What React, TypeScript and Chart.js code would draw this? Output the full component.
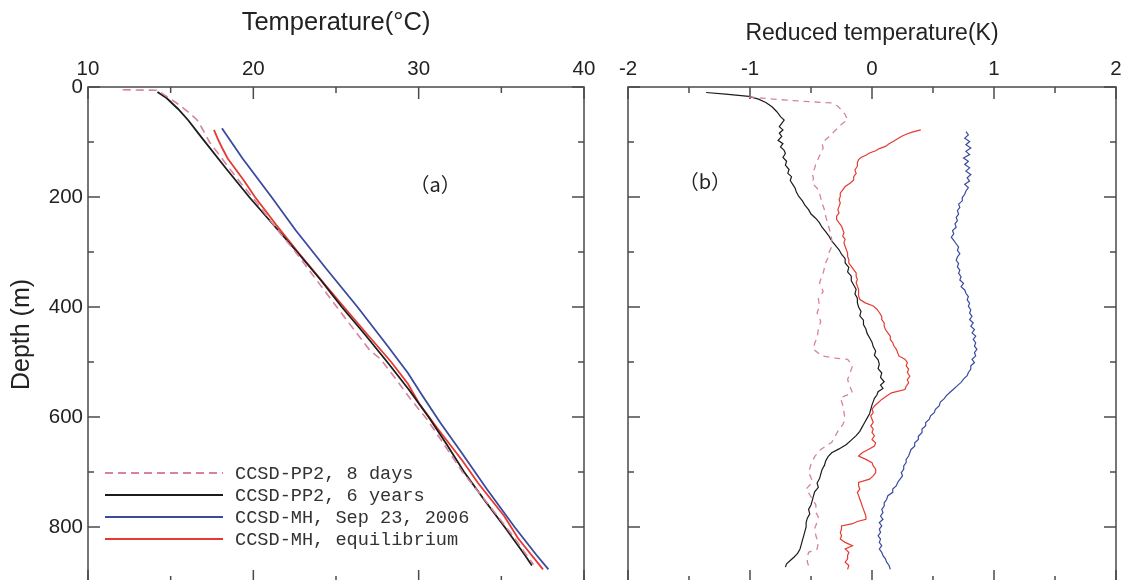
import React, { useEffect, useRef } from 'react';
import { Chart, registerables } from 'chart.js';

Chart.register(...registerables);

const FONT = '"Liberation Sans", Arial, sans-serif';
const MONO = '"Liberation Mono", "DejaVu Sans Mono", monospace';
const CJK = '"Noto Sans CJK SC", "Noto Sans", sans-serif';

// ---------- ticks ----------
const tempTicks = [10, 20, 30, 40];
const tempMinorTicks = [15, 25, 35];
const reducedTicks = [-2, -1, 0, 1, 2];
const reducedMinorTicks = [-1.5, -0.5, 0.5, 1.5];
const depthTicks = [0, 200, 400, 600, 800];
const depthMinorTicks = [100, 300, 500, 700, 900];

const legendLabels = ['CCSD-PP2, 8 days', 'CCSD-PP2, 6 years', 'CCSD-MH, Sep 23, 2006', 'CCSD-MH, equilibrium'];

// ---------- panel (a): temperature ----------
const aPinkDepth = [5, 6, 18, 30, 45, 60, 75, 100, 140, 175, 210, 265, 300, 350, 410, 477, 495, 530, 565, 604, 646, 700, 760, 820, 846, 868];
const aPinkTemp = [12.1, 14.2, 14.8, 15.4, 16.05, 16.6, 16.9, 17.35, 18.35, 19.25, 20.2, 21.6, 22.55, 23.8, 25.3, 27.0, 27.7, 28.6, 29.45, 30.5, 31.45, 32.65, 34.25, 35.8, 36.4, 36.95];

const aBlackDepth = [9, 20, 40, 60, 93, 150, 200, 250, 300, 350, 400, 450, 500, 550, 600, 650, 700, 750, 800, 850, 870];
const aBlackTemp = [14.2, 14.75, 15.45, 16.05, 16.9, 18.4, 19.75, 21.2, 22.65, 24.05, 25.35, 26.75, 28.1, 29.4, 30.6, 31.7, 32.75, 33.95, 35.2, 36.4, 36.85];

const aBlueDepth = [75, 130, 200, 260, 330, 400, 470, 520, 560, 610, 665, 730, 800, 850, 877];
const aBlueTemp = [18.1, 19.35, 21.1, 22.55, 24.4, 26.3, 28.1, 29.35, 30.2, 31.3, 32.6, 34.1, 35.8, 37.1, 37.85];

const aRedDepth = [78, 93, 110, 130, 170, 200, 250, 300, 350, 400, 450, 500, 540, 575, 620, 680, 720, 780, 820, 877];
const aRedTemp = [17.62, 17.83, 18.1, 18.45, 19.43, 20.1, 21.37, 22.7, 24.08, 25.48, 26.9, 28.34, 29.36, 30.02, 31.12, 32.66, 33.59, 35.17, 36.0, 37.52];

// ---------- panel (b): reduced temperature ----------
const bPinkDepth = [18, 24, 27, 29, 35, 42, 50, 60, 66, 72, 81, 90, 102, 111, 120, 130, 139, 148, 157, 166, 175, 184, 193, 202, 211, 223, 235, 250, 266, 278, 290, 300, 310, 320, 338, 356, 372, 385, 398, 411, 426, 441, 456, 466, 477, 489, 493, 495, 507, 520, 532, 545, 556, 565, 578, 592, 604, 614, 622, 634, 646, 659, 672, 686, 701, 710, 719, 731, 745, 760, 773, 782, 791, 803, 816, 828, 840, 846, 855, 864, 870];
const bPinkValue = [-1.01, -0.7, -0.49, -0.33, -0.28, -0.25, -0.22, -0.2, -0.24, -0.27, -0.31, -0.35, -0.41, -0.4, -0.42, -0.44, -0.46, -0.47, -0.49, -0.48, -0.49, -0.45, -0.43, -0.42, -0.41, -0.39, -0.38, -0.36, -0.34, -0.33, -0.33, -0.35, -0.36, -0.38, -0.4, -0.43, -0.4, -0.44, -0.43, -0.45, -0.42, -0.44, -0.45, -0.47, -0.48, -0.41, -0.3, -0.2, -0.16, -0.18, -0.2, -0.18, -0.16, -0.26, -0.24, -0.23, -0.22, -0.24, -0.27, -0.3, -0.33, -0.42, -0.47, -0.5, -0.52, -0.5, -0.49, -0.54, -0.5, -0.46, -0.46, -0.44, -0.45, -0.47, -0.46, -0.44, -0.45, -0.52, -0.53, -0.53, -0.52];

const bBlackDepth = [10, 13, 17, 22, 28, 36, 45, 54, 60, 66, 72, 78, 84, 90, 97, 103, 109, 115, 121, 128, 135, 142, 150, 157, 163, 170, 177, 184, 191, 199, 207, 215, 223, 231, 239, 247, 255, 263, 272, 280, 288, 296, 304, 312, 320, 328, 336, 344, 352, 360, 368, 376, 384, 392, 400, 408, 416, 424, 432, 440, 448, 456, 464, 472, 480, 488, 496, 504, 512, 520, 528, 536, 542, 548, 554, 560, 566, 572, 578, 586, 594, 602, 610, 618, 626, 634, 642, 650, 658, 665, 672, 680, 688, 696, 704, 712, 720, 728, 736, 744, 752, 760, 768, 776, 784, 792, 800, 808, 816, 824, 832, 840, 848, 855, 861, 867, 873];
const bBlackValue = [-1.36, -1.2, -1.01, -0.93, -0.87, -0.82, -0.78, -0.75, -0.72, -0.74, -0.76, -0.73, -0.76, -0.74, -0.77, -0.73, -0.75, -0.72, -0.71, -0.73, -0.7, -0.71, -0.68, -0.69, -0.66, -0.67, -0.65, -0.63, -0.62, -0.6, -0.57, -0.55, -0.52, -0.5, -0.46, -0.43, -0.41, -0.38, -0.35, -0.33, -0.3, -0.27, -0.25, -0.22, -0.22, -0.19, -0.2, -0.17, -0.17, -0.15, -0.13, -0.14, -0.12, -0.12, -0.11, -0.09, -0.1, -0.07, -0.07, -0.05, -0.04, -0.02, 0.0, 0.01, 0.03, 0.02, 0.05, 0.06, 0.05, 0.08, 0.07, 0.1, 0.07, 0.09, 0.05, 0.04, 0.02, 0.01, 0.0, -0.01, -0.02, -0.04, -0.06, -0.08, -0.1, -0.13, -0.17, -0.21, -0.27, -0.33, -0.36, -0.38, -0.39, -0.41, -0.42, -0.43, -0.45, -0.44, -0.47, -0.48, -0.49, -0.5, -0.52, -0.51, -0.53, -0.54, -0.54, -0.55, -0.56, -0.57, -0.58, -0.59, -0.61, -0.64, -0.67, -0.7, -0.71];

const bBlueDepth = [81, 87, 93, 99, 105, 111, 117, 123, 129, 135, 141, 147, 153, 159, 165, 171, 177, 183, 189, 195, 201, 207, 213, 219, 225, 231, 237, 243, 249, 255, 261, 267, 273, 279, 285, 291, 297, 303, 309, 315, 321, 327, 333, 339, 345, 351, 357, 363, 369, 375, 381, 387, 393, 399, 405, 411, 417, 423, 429, 435, 441, 447, 453, 459, 465, 471, 477, 483, 489, 495, 501, 507, 513, 519, 525, 531, 537, 543, 549, 555, 561, 567, 573, 580, 586, 592, 598, 604, 610, 616, 622, 628, 635, 641, 647, 653, 659, 665, 671, 677, 683, 689, 695, 701, 707, 713, 719, 725, 731, 737, 743, 750, 756, 762, 768, 774, 780, 786, 792, 798, 804, 810, 816, 822, 828, 834, 840, 846, 852, 858, 864, 870, 877];
const bBlueValue = [0.77, 0.79, 0.76, 0.8, 0.77, 0.81, 0.77, 0.8, 0.75, 0.79, 0.76, 0.8, 0.77, 0.81, 0.78, 0.8, 0.76, 0.79, 0.77, 0.76, 0.74, 0.74, 0.71, 0.72, 0.7, 0.71, 0.69, 0.7, 0.68, 0.69, 0.66, 0.67, 0.65, 0.67, 0.69, 0.71, 0.7, 0.72, 0.7, 0.69, 0.71, 0.7, 0.72, 0.71, 0.73, 0.72, 0.75, 0.73, 0.76, 0.77, 0.79, 0.78, 0.8, 0.79, 0.81, 0.8, 0.82, 0.8, 0.83, 0.81, 0.84, 0.82, 0.85, 0.83, 0.85, 0.84, 0.86, 0.84, 0.85, 0.82, 0.84, 0.81, 0.81, 0.79, 0.78, 0.75, 0.73, 0.7, 0.67, 0.64, 0.61, 0.59, 0.56, 0.55, 0.52, 0.51, 0.48, 0.47, 0.44, 0.44, 0.41, 0.41, 0.38, 0.38, 0.35, 0.35, 0.32, 0.31, 0.3, 0.28, 0.28, 0.26, 0.26, 0.24, 0.25, 0.23, 0.21, 0.2, 0.17, 0.17, 0.13, 0.12, 0.1, 0.1, 0.08, 0.09, 0.07, 0.09, 0.06, 0.08, 0.06, 0.07, 0.05, 0.07, 0.06, 0.08, 0.06, 0.08, 0.09, 0.11, 0.12, 0.14, 0.15];

const bRedDepth = [78, 82, 86, 90, 94, 98, 103, 108, 112, 116, 120, 124, 128, 132, 138, 144, 151, 157, 163, 169, 175, 181, 187, 193, 199, 205, 211, 217, 223, 229, 235, 241, 247, 253, 259, 265, 271, 277, 283, 290, 296, 302, 308, 314, 320, 326, 332, 338, 344, 350, 356, 362, 368, 374, 380, 386, 392, 398, 404, 410, 417, 423, 429, 435, 441, 447, 453, 459, 465, 471, 477, 483, 489, 495, 501, 507, 513, 519, 526, 532, 538, 544, 550, 556, 562, 568, 574, 580, 586, 592, 598, 604, 610, 616, 622, 628, 634, 641, 647, 653, 659, 665, 671, 677, 683, 689, 695, 701, 707, 713, 719, 725, 731, 737, 743, 749, 755, 762, 768, 774, 780, 786, 790, 794, 798, 804, 810, 816, 822, 828, 834, 840, 846, 852, 858, 864, 870, 877];
const bRedValue = [0.4, 0.33, 0.28, 0.24, 0.21, 0.18, 0.14, 0.11, 0.06, 0.03, -0.02, -0.05, -0.09, -0.11, -0.12, -0.12, -0.14, -0.13, -0.15, -0.15, -0.18, -0.22, -0.24, -0.26, -0.26, -0.27, -0.26, -0.27, -0.28, -0.27, -0.29, -0.29, -0.27, -0.25, -0.24, -0.23, -0.24, -0.22, -0.23, -0.22, -0.21, -0.2, -0.2, -0.19, -0.19, -0.17, -0.15, -0.13, -0.13, -0.12, -0.13, -0.12, -0.11, -0.11, -0.11, -0.1, -0.06, 0.01, 0.04, 0.06, 0.08, 0.08, 0.1, 0.1, 0.11, 0.13, 0.15, 0.15, 0.17, 0.18, 0.2, 0.21, 0.22, 0.27, 0.29, 0.28, 0.3, 0.29, 0.31, 0.29, 0.3, 0.28, 0.27, 0.16, 0.12, 0.08, 0.05, 0.02, 0.0, 0.01, -0.01, 0.0, 0.01, -0.01, 0.01, 0.0, 0.02, 0.0, 0.03, 0.02, -0.03, -0.08, -0.11, -0.05, 0.0, 0.01, 0.03, 0.03, 0.01, -0.02, -0.11, -0.11, -0.1, -0.12, -0.11, -0.1, -0.09, -0.08, -0.07, -0.06, -0.05, -0.05, -0.12, -0.16, -0.25, -0.25, -0.26, -0.25, -0.26, -0.22, -0.16, -0.22, -0.19, -0.2, -0.2, -0.22, -0.19, -0.2];

// ---------- colours ----------
const PINK = '#d8839c';
const BLACK = '#1c1c1c';
const BLUE = '#3a4a9e';
const RED = '#e53a32';
const AXIS = '#4a4a4a';
const TEXT = '#222222';

function pts(depth: number[], vals: number[]) {
  return depth.map((d, i) => ({ x: vals[i], y: d }));
}

function makeFrame(xMajor: number[], xMinor: number[], yMajor: number[], yMinor: number[]) {
  return {
    id: 'frame',
    beforeDatasetsDraw(chart: any) {
      const { ctx, chartArea, scales } = chart;
      const { left, right, top, bottom } = chartArea;
      const x = scales.x;
      const y = scales.y;
      ctx.save();
      ctx.strokeStyle = AXIS;
      ctx.lineWidth = 1.5;
      ctx.strokeRect(left, top, right - left, bottom - top);
      const seg = (x1: number, y1: number, x2: number, y2: number) => {
        ctx.beginPath();
        ctx.moveTo(x1, y1);
        ctx.lineTo(x2, y2);
        ctx.stroke();
      };
      const tick = (vals: number[], len: number) => {
        for (const v of vals) {
          const px = x.getPixelForValue(v);
          seg(px, top, px, top + len);
          seg(px, bottom, px, bottom - len);
        }
      };
      const ytick = (vals: number[], len: number) => {
        for (const v of vals) {
          const py = y.getPixelForValue(v);
          seg(left, py, left + len, py);
          seg(right, py, right - len, py);
        }
      };
      tick(xMajor, 12);
      tick(xMinor, 6);
      ytick(yMajor, 12);
      ytick(yMinor, 6);
      ctx.restore();
    },
  };
}

function makeLabel(text: string, xv: number, yv: number) {
  return {
    id: 'panelLabel',
    afterDraw(chart: any) {
      const { ctx, scales } = chart;
      ctx.save();
      ctx.font = `20px ${CJK}`;
      ctx.fillStyle = TEXT;
      ctx.textAlign = 'center';
      ctx.textBaseline = 'middle';
      ctx.fillText(text, scales.x.getPixelForValue(xv), scales.y.getPixelForValue(yv));
      ctx.restore();
    },
  };
}

const legendPlugin = {
  id: 'innerLegend',
  afterDraw(chart: any) {
    const { ctx, chartArea } = chart;
    const x0 = chartArea.left + 17;
    const x1 = chartArea.left + 135;
    const tx = chartArea.left + 147;
    const y0 = chartArea.top + 386;
    const step = 22;
    ctx.save();
    chart.data.datasets.forEach((ds: any, i: number) => {
      const yy = y0 + i * step;
      ctx.strokeStyle = ds.borderColor;
      ctx.lineWidth = 2;
      ctx.setLineDash(ds.borderDash || []);
      ctx.beginPath();
      ctx.moveTo(x0, yy);
      ctx.lineTo(x1, yy);
      ctx.stroke();
      ctx.setLineDash([]);
      ctx.font = `18.6px ${MONO}`;
      ctx.fillStyle = '#333333';
      ctx.textAlign = 'left';
      ctx.textBaseline = 'middle';
      ctx.fillText(ds.label, tx, yy + 1);
    });
    ctx.restore();
  },
};

function depthScale(showLabels: boolean, width: number) {
  return {
    type: 'linear',
    reverse: true,
    min: 0,
    max: 900,
    afterBuildTicks: (s: any) => {
      s.ticks = depthTicks.map((v) => ({ value: v }));
    },
    afterFit: (s: any) => {
      s.width = width;
      s.paddingTop = 0;
      s.paddingBottom = 0;
    },
    grid: { display: false, drawTicks: false },
    border: { display: false },
    ticks: { display: showLabels, font: { family: FONT, size: 20.5 }, color: TEXT, padding: 5 },
    title: {
      display: showLabels,
      text: 'Depth (m)',
      font: { family: FONT, size: 25 },
      color: TEXT,
      padding: { top: 7, bottom: 0 },
    },
  };
}

function topScale(min: number, max: number, ticks: number[], title: string, titleSize: number, titleTop: number) {
  return {
    type: 'linear',
    position: 'top',
    min,
    max,
    afterBuildTicks: (s: any) => {
      s.ticks = ticks.map((v) => ({ value: v }));
    },
    afterFit: (s: any) => {
      s.height = 87;
      s.paddingLeft = 0;
      s.paddingRight = 0;
    },
    grid: { display: false, drawTicks: false },
    border: { display: false },
    ticks: { font: { family: FONT, size: 20.5 }, color: TEXT, padding: 5, maxRotation: 0 },
    title: {
      display: true,
      text: title,
      font: { family: FONT, size: titleSize },
      color: TEXT,
      padding: { top: titleTop, bottom: 0 },
    },
  };
}

function lineDs(label: string, data: any[], color: string, width: number, dash?: number[]) {
  return {
    label,
    data,
    borderColor: color,
    backgroundColor: color,
    borderWidth: width,
    borderDash: dash || [],
    showLine: true,
    pointRadius: 0,
    pointHoverRadius: 0,
    tension: 0,
    fill: false,
  };
}

export default function App() {
  const leftRef = useRef<HTMLCanvasElement>(null);
  const rightRef = useRef<HTMLCanvasElement>(null);

  useEffect(() => {
    const left = new Chart(leftRef.current as HTMLCanvasElement, {
      type: 'scatter',
      data: {
        datasets: [
          lineDs(legendLabels[0], pts(aPinkDepth, aPinkTemp), PINK, 1.6, [8, 5]),
          lineDs(legendLabels[1], pts(aBlackDepth, aBlackTemp), BLACK, 1.8),
          lineDs(legendLabels[2], pts(aBlueDepth, aBlueTemp), BLUE, 1.8),
          lineDs(legendLabels[3], pts(aRedDepth, aRedTemp), RED, 1.8),
        ],
      } as any,
      options: {
        responsive: false,
        maintainAspectRatio: false,
        animation: false,
        events: [],
        layout: { padding: { left: 0, right: 22, top: 0, bottom: 10 } },
        plugins: { legend: { display: false }, tooltip: { enabled: false } },
        scales: {
          x: topScale(10, 40, tempTicks, 'Temperature(°C)', 25.5, 8),
          y: depthScale(true, 88),
        },
      } as any,
      plugins: [
        makeFrame(tempTicks, tempMinorTicks, depthTicks, depthMinorTicks),
        makeLabel('（a）', 31, 178),
        legendPlugin,
      ],
    });

    const right = new Chart(rightRef.current as HTMLCanvasElement, {
      type: 'scatter',
      data: {
        datasets: [
          lineDs(legendLabels[0], pts(bPinkDepth, bPinkValue), PINK, 1.3, [6, 5]),
          lineDs(legendLabels[1], pts(bBlackDepth, bBlackValue), BLACK, 1.2),
          lineDs(legendLabels[2], pts(bBlueDepth, bBlueValue), BLUE, 1.2),
          lineDs(legendLabels[3], pts(bRedDepth, bRedValue), RED, 1.2),
        ],
      } as any,
      options: {
        responsive: false,
        maintainAspectRatio: false,
        animation: false,
        events: [],
        layout: { padding: { left: 0, right: 14, top: 0, bottom: 10 } },
        plugins: { legend: { display: false }, tooltip: { enabled: false } },
        scales: {
          x: topScale(-2, 2, reducedTicks, 'Reduced temperature(K)', 23, 20),
          y: depthScale(false, 22),
        },
      } as any,
      plugins: [
        makeFrame(reducedTicks, reducedMinorTicks, depthTicks, depthMinorTicks),
        makeLabel('（b）', -1.37, 172),
      ],
    });

    return () => {
      left.destroy();
      right.destroy();
    };
  }, []);

  return (
    <div
      style={{
        position: 'fixed',
        left: 0,
        top: 0,
        width: 1130,
        height: 580,
        overflow: 'hidden',
        background: '#ffffff',
      }}
    >
      <canvas
        ref={leftRef}
        width={606}
        height={592}
        style={{ position: 'absolute', left: 0, top: 0, width: 606, height: 592 }}
      />
      <canvas
        ref={rightRef}
        width={524}
        height={592}
        style={{ position: 'absolute', left: 606, top: 0, width: 524, height: 592 }}
      />
    </div>
  );
}
